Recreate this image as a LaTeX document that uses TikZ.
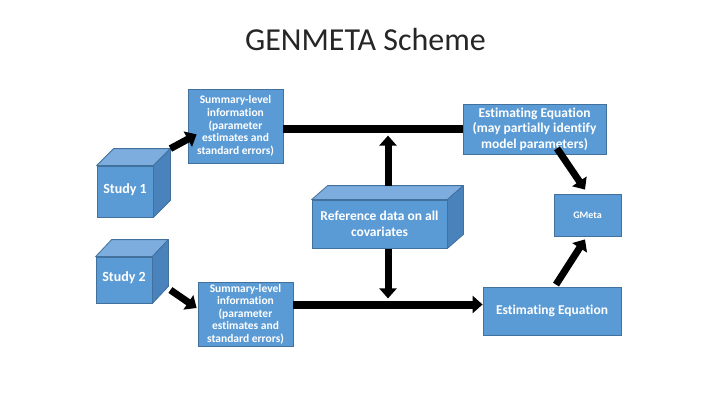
\documentclass[tikz,border=0pt]{standalone}
\usepackage{fontspec}
\setmainfont{Carlito}[Ligatures=NoCommon]
\usetikzlibrary{arrows.meta}
\definecolor{boxfill}{HTML}{5B9BD5}
\definecolor{boxedge}{HTML}{41719C}
\definecolor{cubetopc}{HTML}{7CADDE}
\definecolor{cubesidec}{HTML}{4A82BC}
\tikzset{
  box/.style={draw=boxedge, fill=boxfill, line width=0.8pt, inner sep=0pt, align=center,
    text=white, font=\bfseries\fontsize{11.5}{12.8}\selectfont},
  bigtext/.style={font=\bfseries\fontsize{13.5}{15.5}\selectfont},
  studytext/.style={font=\bfseries\fontsize{14}{16}\selectfont},
  smalltext/.style={font=\bfseries\fontsize{10}{12}\selectfont},
  cubetop/.style={draw=boxedge, fill=cubetopc, line width=0.8pt, line join=round},
  cubeside/.style={draw=boxedge, fill=cubesidec, line width=0.8pt, line join=round},
  arr/.style={line width=7pt, -{Triangle[length=10pt,width=17pt]}},
  bar/.style={line width=8pt},
}
\begin{document}
\begin{tikzpicture}[x=1pt,y=-1pt]
\useasboundingbox (0,0) rectangle (720,405);
\fill[white] (0,0) rectangle (720,405);

% title
\node (title) [anchor=base, inner sep=0pt, font=\fontsize{32}{36}\selectfont, text=black!85] at (365.5,50) {GENMETA Scheme};

% Study 1 cube
\node (s1) [box, studytext, minimum width=56pt, minimum height=51pt] at (125,191.5) {\raisebox{6pt}{Study 1}};
\draw[cubetop] (s1.north west) -- ++(17,-17) -- ([shift={(17,-17)}]s1.north east) -- (s1.north east) -- cycle;
\draw[cubeside] (s1.north east) -- ++(17,-17) -- ([shift={(17,-17)}]s1.south east) -- (s1.south east) -- cycle;

% Study 2 cube
\node (s2) [box, studytext, minimum width=56pt, minimum height=46pt] at (124,280) {\raisebox{7pt}{Study 2}};
\draw[cubetop] (s2.north west) -- ++(16,-17) -- ([shift={(16,-17)}]s2.north east) -- (s2.north east) -- cycle;
\draw[cubeside] (s2.north east) -- ++(16,-17) -- ([shift={(16,-17)}]s2.south east) -- (s2.south east) -- cycle;

% Reference cube
\node (ref) [box, bigtext, minimum width=135pt, minimum height=48pt] at (379.5,224) {Reference data on all\\covariates};
\draw[cubetop] (ref.north west) -- ++(16,-14) -- ([shift={(16,-14)}]ref.north east) -- (ref.north east) -- cycle;
\draw[cubeside] (ref.north east) -- ++(16,-14) -- ([shift={(16,-14)}]ref.south east) -- (ref.south east) -- cycle;

% summary boxes
\node (sum1) [box, minimum width=95pt, minimum height=74pt] at (235.5,126)
  {Summary-level\\information\\(parameter\\estimates and\\standard errors)};
\node (sum2) [box, minimum width=95pt, minimum height=64pt, font=\bfseries\fontsize{11.5}{12.5}\selectfont] at (245.5,314)
  {Summary-level\\information\\(parameter\\estimates and\\standard errors)};

% estimating equations and GMeta
\node (est1) [box, bigtext, minimum width=143pt, minimum height=50pt] at (534.5,129)
  {Estimating Equation\\(may partially identify\\model parameters)};
\node (est2) [box, bigtext, minimum width=138pt, minimum height=48pt] at (552,311) {Estimating Equation};
\node (gm) [box, smalltext, minimum width=67pt, minimum height=42pt] at (587.5,215) {GMeta};

% connectors
\draw[arr] ([shift={(17,-17)}]s1.north east) -- ([shift={(9,-29)}]sum1.south west);
\draw[arr] ([shift={(18,10)}]s2.east) -- ([shift={(-1,-6)}]sum2.west);
\draw[bar] (sum1.east |- est1.west) -- (est1.west);
\draw[arr] ([shift={(8.5,-14)}]ref.north) -- ([shift={(8.5,-64)}]ref.north);
\draw[arr] ([shift={(8.5,1)}]ref.south) -- ([shift={(8.5,50)}]ref.south);
\coordinate (b0) at ([yshift=9.5pt]sum2.east);
\draw[bar, -{Triangle[length=10pt,width=17pt]}] (b0) -- (b0 -| est2.west);
\draw[arr] ([shift={(22.5,-6)}]est1.south) -- ([shift={(-2.5,-4)}]gm.north);
\draw[arr] ([shift={(4,-2)}]est2.north) -- ([shift={(-2.5,3)}]gm.south);
\end{tikzpicture}
\end{document}
